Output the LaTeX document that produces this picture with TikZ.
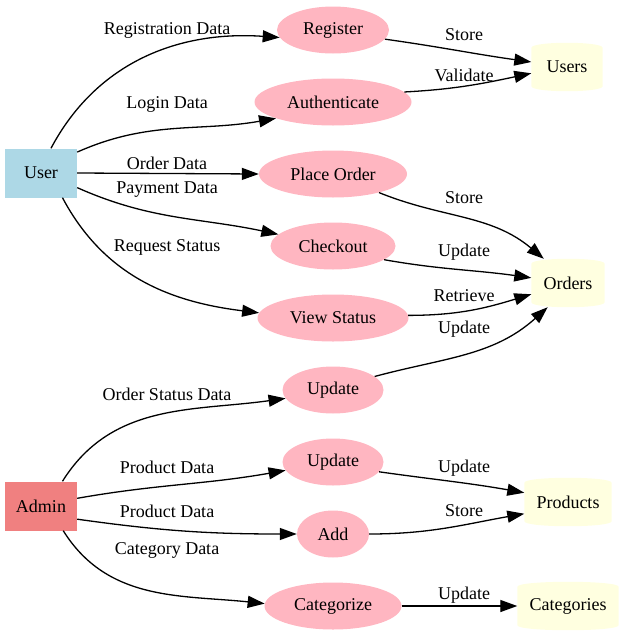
\documentclass[tikz,border=0pt]{standalone}
\usepackage{fontspec}
\setmainfont{Liberation Serif}
\usetikzlibrary{arrows.meta,backgrounds}
\definecolor{lblue}{HTML}{ADD8E6}
\definecolor{lcoral}{HTML}{F08080}
\definecolor{lpink}{HTML}{FFB6C1}
\definecolor{lyellow}{HTML}{FFFFE0}
\usetikzlibrary{shapes.geometric}
\tikzset{
  every node/.style={font=\fontsize{18}{21}\selectfont},
  entity/.style={rectangle, minimum width=72pt, minimum height=49pt, inner sep=0pt},
  proc/.style={ellipse, fill=lpink, minimum height=47pt, inner sep=0pt},
  store/.style={rectangle, minimum height=48pt, inner sep=0pt},
  flow/.style={line width=1.3pt, -{Triangle[length=17pt,width=12pt]}},
  lbl/.style={inner sep=0pt}
}
\newcommand\storebg[1]{%
  \fill[lyellow] ([yshift=-5pt]#1.north west) .. controls ([yshift=1.7pt]#1.north west) and ([yshift=1.7pt]#1.north east) .. ([yshift=-5pt]#1.north east)
  -- ([yshift=5pt]#1.south east) .. controls ([yshift=-1.7pt]#1.south east) and ([yshift=-1.7pt]#1.south west) .. ([yshift=5pt]#1.south west) -- cycle;}
\begin{document}
\begin{tikzpicture}[x=1pt,y=1pt]
\useasboundingbox (0,0) rectangle (623,-635);
% external entities
\node[entity, fill=lblue] (user) at (41,-173) {User};
\node[entity, fill=lcoral] (admin) at (41,-506) {Admin};
% processes
\node[proc, minimum width=112pt] (reg) at (333,-30) {Register};
\node[proc, minimum width=157pt] (auth) at (333,-102) {Authenticate};
\node[proc, minimum width=148pt] (place) at (333,-174) {Place Order};
\node[proc, minimum width=125pt] (check) at (333,-246) {Checkout};
\node[proc, minimum width=151pt] (view) at (333,-318) {View Status};
\node[proc, minimum width=101pt] (upd1) at (333,-390) {Update};
\node[proc, minimum width=101pt] (upd2) at (333,-462) {Update};
\node[proc, minimum width=72pt] (add) at (333,-534) {Add};
\node[proc, minimum width=137pt] (cat) at (333,-606) {Categorize};
% stores
\node[store, minimum width=71pt] (users) at (567,-67) {Users};
\node[store, minimum width=73pt] (orders) at (568,-283) {Orders};
\node[store, minimum width=87pt] (products) at (568,-502) {Products};
\node[store, minimum width=101pt] (categories) at (568,-606) {Categories};
\begin{scope}[on background layer]
\storebg{users}
\storebg{orders}
\storebg{products}
\storebg{categories}
\end{scope}
% flows from User
\draw[flow] (user.68) to[out=62,in=176] (reg.188);
\draw[flow] (user.30) to[out=24,in=190] (auth.196);
\draw[flow] (user.east) -- (place.west);
\draw[flow] (user.-22) to[out=-24,in=168] (check.168);
\draw[flow] (user.-49) to[out=-62,in=173] (view.176);
% flows to stores
\draw[flow] (reg.-10) to[out=-8,in=172] (users.172);
\draw[flow] (auth.8) to[out=3,in=192] (users.190);
\draw[flow] (place.-22) to[out=-22,in=140] (orders.135);
\draw[flow] (check.-15) to[out=-10,in=172] (orders.172);
\draw[flow] (view.2) to[out=0,in=197] (orders.197);
\draw[flow] (upd1.18) to[out=15,in=-138] (orders.-130);
% flows from Admin
\draw[flow] (admin.49) to[out=58,in=188] (upd1.190);
\draw[flow] (admin.12) to[out=10,in=190] (upd2.190);
\draw[flow] (admin.-20) to[out=-8,in=180] (add.west);
\draw[flow] (admin.-48) to[out=-58,in=174] (cat.178);
\draw[flow] (upd2.-12) to[out=-8,in=170] (products.168);
\draw[flow] (add.east) to[out=0,in=190] (products.195);
\draw[flow] (cat.east) -- (categories.west);
% labels
\node[lbl] (l1) at (167,-30) {Registration Data};
\node[lbl] (l2) at (167,-104) {Login Data};
\node[lbl] (l3) at (167,-163) {Order Data};
\node[lbl] (l4) at (167,-190) {Payment Data};
\node[lbl] (l5) at (167,-247) {Request Status};
\node[lbl] (l6) at (464,-35) {Store};
\node[lbl] (l7) at (464,-75) {Validate};
\node[lbl] (l8) at (464,-198) {Store};
\node[lbl] (l9) at (464,-252) {Update};
\node[lbl] (l10) at (464,-296) {Retrieve};
\node[lbl] (l11) at (464,-329) {Update};
\node[lbl] (l12) at (167,-394) {Order Status Data};
\node[lbl] (l13) at (167,-467) {Product Data};
\node[lbl] (l14) at (167,-511) {Product Data};
\node[lbl] (l15) at (167,-550) {Category Data};
\node[lbl] (l16) at (464,-468) {Update};
\node[lbl] (l17) at (464,-511) {Store};
\node[lbl] (l18) at (464,-595) {Update};
\end{tikzpicture}
\end{document}
